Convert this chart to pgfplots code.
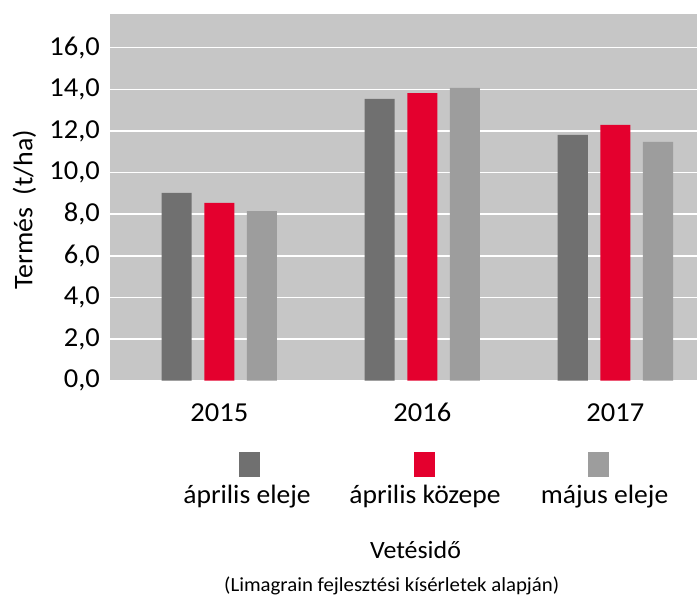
\documentclass[border=0pt]{standalone}
\usepackage{pgfplots}
\pgfplotsset{compat=1.18}
\usepackage{fontspec}
\setmainfont{Carlito}[FakeStretch=1.04]
\definecolor{bgg}{HTML}{C6C6C6}
\definecolor{dg}{HTML}{707070}
\definecolor{rd}{HTML}{E4002E}
\definecolor{lg}{HTML}{9D9D9D}
\begin{document}
\begin{tikzpicture}[x=1bp,y=1bp]
\path[use as bounding box] (0,0) rectangle (697,596);
\begin{axis}[
  at={(110bp,215.3bp)}, anchor=south west,
  width=587bp, height=366.7bp, scale only axis,
  xmin=-0.5384, xmax=2.3532, ymin=0, ymax=17.62,
  axis background/.style={fill=bgg},
  axis line style={draw=none},
  major tick length=0pt,
  ytick={0,2,...,16},
  ymajorgrids, grid style={white, line width=1.5bp},
  xtick={0,1,1.951}, xticklabels={2015,2016,2017},
  /pgf/number format/.cd, fixed, fixed zerofill, precision=1, use comma, assume math mode=true,
  /pgfplots/.cd,
  ticklabel style={font=\fontsize{27.5}{32}\selectfont},
  yticklabel style={inner sep=10bp},
  xticklabel style={anchor=base, yshift=-41.3bp},
  ylabel={Termés\ \ (t/ha)},
  ylabel style={font=\fontsize{27}{32}\selectfont, at={(axis description cs:-0.1457,0.466)}, anchor=center},
  ybar, bar width=0.148,
]
\addplot[fill=dg, draw=none, bar shift=-0.21] coordinates {(0,9.02) (1,13.54) (1.951,11.81)};
\addplot[fill=rd, draw=none, bar shift=0] coordinates {(0,8.54) (1,13.82) (1.951,12.29)};
\addplot[fill=lg, draw=none, bar shift=0.21] coordinates {(0,8.15) (1,14.07) (1.951,11.47)};
\end{axis}
% legend
\fill[dg] (239,119.3) rectangle (260,144.3);
\fill[rd] (413.5,119.3) rectangle (434.5,144.3);
\fill[lg] (588,119.3) rectangle (609,144.3);
\node[anchor=base, inner sep=0pt, font=\fontsize{26.6}{30}\selectfont] at (247,92.7) {április eleje};
\node[anchor=base, inner sep=0pt, font=\fontsize{26.6}{30}\selectfont] at (425,92.7) {április közepe};
\node[anchor=base, inner sep=0pt, font=\fontsize{26.6}{30}\selectfont] at (604.6,92.7) {május eleje};
\node[anchor=base, inner sep=0pt, font=\fontsize{25}{28}\selectfont] at (415.5,37.7) {Vetésidő};
\node[anchor=base, inner sep=0pt, font=\fontsize{20.1}{24}\selectfont] at (391.7,4.5) {(Limagrain fejlesztési kísérletek alapján)};
\end{tikzpicture}
\end{document}
